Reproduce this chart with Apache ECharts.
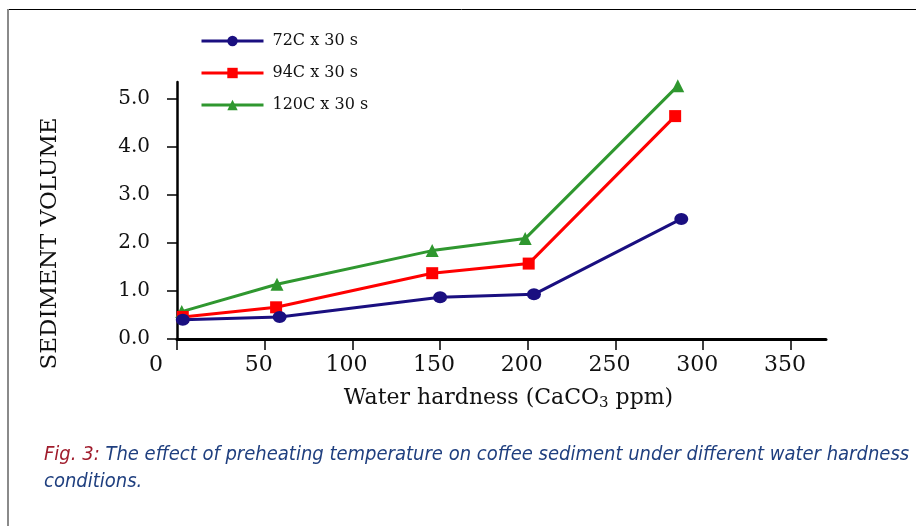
<!DOCTYPE html>
<html>
<head>
<meta charset="utf-8">
<script src="https://cdn.jsdelivr.net/npm/echarts@6/dist/echarts.min.js"></script>
<style>
  html, body { margin: 0; padding: 0; background: #ffffff; }
  #chart { width: 916px; height: 526px; }
</style>
</head>
<body>
<div id="chart"></div>
<script>
// ---- data ----
const seriesNames = ['72C x 30 s', '94C x 30 s', '120C x 30 s'];
const hardness72 = [3.3, 58.5, 150, 203.5, 287.5];
const volume72 = [0.40, 0.46, 0.87, 0.93, 2.50];
const hardness94 = [3.3, 56.5, 145.5, 200.5, 284];
const volume94 = [0.46, 0.66, 1.37, 1.57, 4.64];
const hardness120 = [2.7, 57, 145.5, 198.5, 285.5];
const volume120 = [0.57, 1.14, 1.84, 2.09, 5.27];
const xTicks = [0, 50, 100, 150, 200, 250, 300, 350];
const yTicks = [0, 1, 2, 3, 4, 5];
const xTitle = 'Water hardness (CaCO';
const yTitle = 'SEDIMENT VOLUME';
const captionLabel = 'Fig. 3:';
const captionLine1 = 'The effect of preheating temperature on coffee sediment under different water hardness';
const captionLine2 = 'conditions.';

function pairs(xs, ys) { return xs.map((x, i) => [x, ys[i]]); }

const serif = "'DejaVu Serif', 'Liberation Serif', serif";
const narrow = "'Liberation Sans Narrow', 'DejaVu Sans Condensed', sans-serif";
const colors = ['#1a0f80', '#ff0000', '#2f972f'];
const symbols = ['circle', 'rect', 'triangle'];
const datasets = [pairs(hardness72, volume72), pairs(hardness94, volume94), pairs(hardness120, volume120)];

const chart = echarts.init(document.getElementById('chart'), null, { renderer: 'canvas' });
chart.setOption({
  animation: false,
  backgroundColor: '#ffffff',
  grid: { left: 177, top: 82, right: 90, bottom: 187, containLabel: false },
  legend: {
    orient: 'vertical',
    left: 195,
    top: 28,
    itemWidth: 62,
    itemHeight: 13,
    itemGap: 16,
    data: seriesNames,
    lineStyle: { width: 3 },
    textStyle: { fontFamily: serif, fontSize: 16, color: '#111', padding: [0, 0, 0, 4] }
  },
  xAxis: {
    type: 'value',
    min: 0,
    max: 370,
    interval: 50,
    splitLine: { show: false },
    axisLine: { show: true, lineStyle: { color: '#000', width: 3 } },
    axisTick: { show: true, length: 11, inside: false, customValues: xTicks, lineStyle: { color: '#000', width: 1.5 } },
    axisLabel: {
      customValues: xTicks,
      margin: 15,
      fontFamily: serif,
      fontSize: 22,
      color: '#111',
      formatter: v => v === 0 ? '{z|0}' : '{n|' + v + '}',
      rich: {
        z: { fontFamily: serif, fontSize: 22, color: '#111', padding: [0, 42, 0, 0] },
        n: { fontFamily: serif, fontSize: 22, color: '#111', padding: [0, 12, 0, 0] }
      }
    },
    name: '{t|' + xTitle + '}{s|3}{t| ppm)}',
    nameLocation: 'middle',
    nameGap: 46,
    nameTextStyle: {
      rich: {
        t: { fontFamily: serif, fontSize: 22, color: '#111' },
        s: { fontFamily: serif, fontSize: 15, color: '#111', padding: [11, 0, 0, 0] }
      },
      padding: [0, 0, 0, 14]
    }
  },
  yAxis: {
    type: 'value',
    min: 0,
    max: 5.35,
    interval: 1,
    splitLine: { show: false },
    axisLine: { show: true, lineStyle: { color: '#000', width: 2.5 } },
    axisTick: { show: true, length: 10, customValues: yTicks, lineStyle: { color: '#000', width: 1.5 } },
    axisLabel: {
      customValues: yTicks,
      margin: 27,
      fontFamily: serif,
      fontSize: 20,
      color: '#111',
      formatter: v => v.toFixed(1)
    },
    name: yTitle,
    nameLocation: 'middle',
    nameGap: 115,
    nameRotate: 90,
    nameTextStyle: { fontFamily: serif, fontSize: 23, color: '#111', padding: [0, 66, 0, 0] }
  },
  series: seriesNames.map((name, i) => ({
    name: name,
    type: 'line',
    data: datasets[i],
    symbol: symbols[i],
    symbolSize: i === 0 ? [14, 12] : (i === 1 ? 12 : 13),
    showSymbol: true,
    lineStyle: { color: colors[i], width: 3 },
    itemStyle: { color: colors[i] },
    z: 3 - i
  })),
  graphic: [
    { type: 'line', shape: { x1: 7, y1: 9.5, x2: 916, y2: 9.5 }, style: { stroke: '#000', lineWidth: 1 }, silent: true },
    { type: 'line', shape: { x1: 8, y1: 9, x2: 8, y2: 526 }, style: { stroke: '#8a8a8a', lineWidth: 2 }, silent: true },
    {
      type: 'text',
      left: 44,
      top: 445,
      style: {
        text: '{r|' + captionLabel + '}{b| ' + captionLine1 + '}\n{b|' + captionLine2 + '}',
        rich: {
          r: { fontFamily: narrow, fontStyle: 'italic', fontSize: 20, fill: '#a01c2c', lineHeight: 27 },
          b: { fontFamily: narrow, fontStyle: 'italic', fontSize: 20, fill: '#1f3f7f', lineHeight: 27 }
        }
      }
    }
  ]
});
</script>
</body>
</html>
